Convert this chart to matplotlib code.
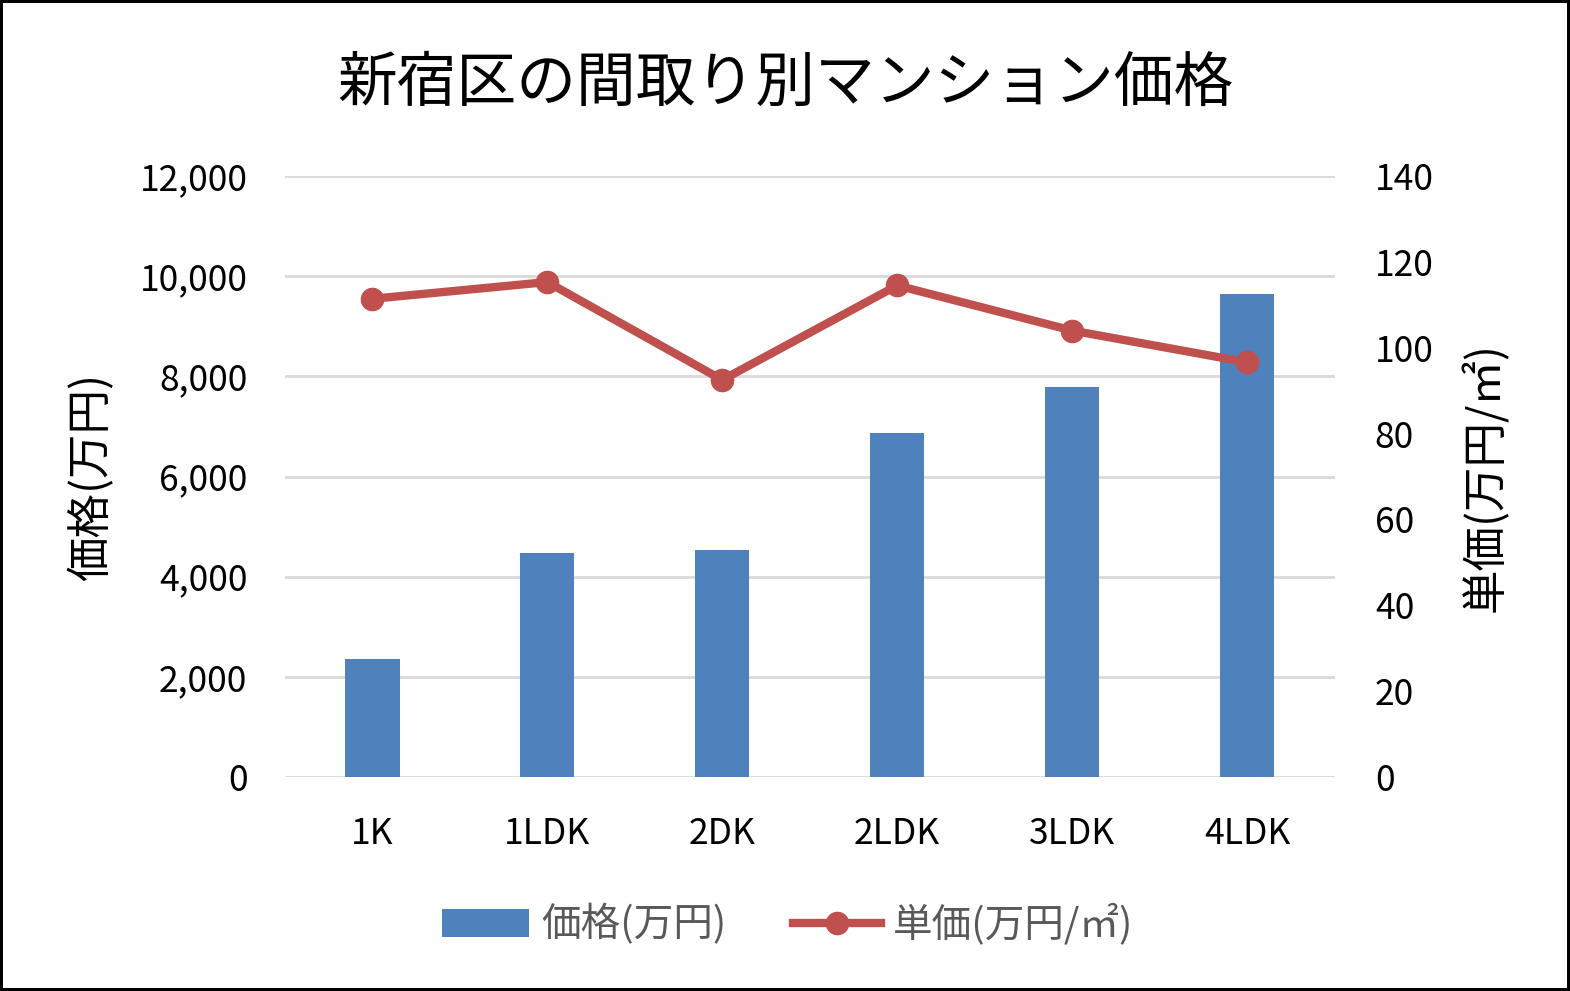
import matplotlib
matplotlib.use("Agg")
import matplotlib.pyplot as plt
from matplotlib.ticker import FuncFormatter

plt.rcParams['font.family'] = ['Noto Sans CJK JP', 'DejaVu Sans']

categories = ["1K", "1LDK", "2DK", "2LDK", "3LDK", "4LDK"]
price = [2350, 4480, 4540, 6860, 7790, 9640]
unit_price = [111.4, 115.3, 92.5, 114.5, 104.0, 96.6]

fig = plt.figure(figsize=(15.70, 9.91), dpi=100)
fig.patch.set_edgecolor("black")
fig.patch.set_linewidth(3)

ax = fig.add_axes([0.1815, 0.2159, 0.6685, 0.6065])
x = range(len(categories))
bars = ax.bar(x, price, width=0.31, color="#4f81bd", label="価格(万円)", zorder=2)
ax.set_ylim(0, 12000)
ax.set_yticks(range(0, 12001, 2000))
ax.yaxis.set_major_formatter(FuncFormatter(lambda v, p: f"{int(v):,}"))
ax.set_xlim(-0.5, len(categories) - 0.5)
ax.set_xticks(list(x))
ax.set_xticklabels(categories)
ax.grid(axis="y", color="#d9d9d9", linewidth=2, zorder=0)
ax.set_axisbelow(True)
for s in ax.spines.values():
    s.set_visible(False)
ax.tick_params(length=0, labelsize=25.5, colors="black")
ax.tick_params(axis="y", pad=27)
ax.tick_params(axis="x", pad=28)
ax.set_ylabel("価格(万円)", fontsize=32, labelpad=18)

ax2 = ax.twinx()
line, = ax2.plot(x, unit_price, color="#c0504d", linewidth=6, marker="o",
                 markersize=16, label="単価(万円/㎡)", zorder=3)
ax2.set_ylim(0, 140)
ax2.set_yticks(range(0, 141, 20))
for s in ax2.spines.values():
    s.set_visible(False)
ax2.tick_params(length=0, labelsize=25.5, colors="black", pad=29)
ax2.set_ylabel("単価(万円/㎡)", fontsize=32, labelpad=20)

fig.suptitle("新宿区の間取り別マンション価格", fontsize=43, y=0.915, va="center")

leg = fig.legend([bars, line], ["価格(万円)", "単価(万円/㎡)"], loc="center",
                 bbox_to_anchor=(0.5015, 0.067), ncol=2, frameon=False,
                 fontsize=28.5, handlelength=2.2, columnspacing=1.7, handletextpad=0.3)
for t in leg.get_texts():
    t.set_color("#595959")

fig.savefig("out.png", dpi=100)
